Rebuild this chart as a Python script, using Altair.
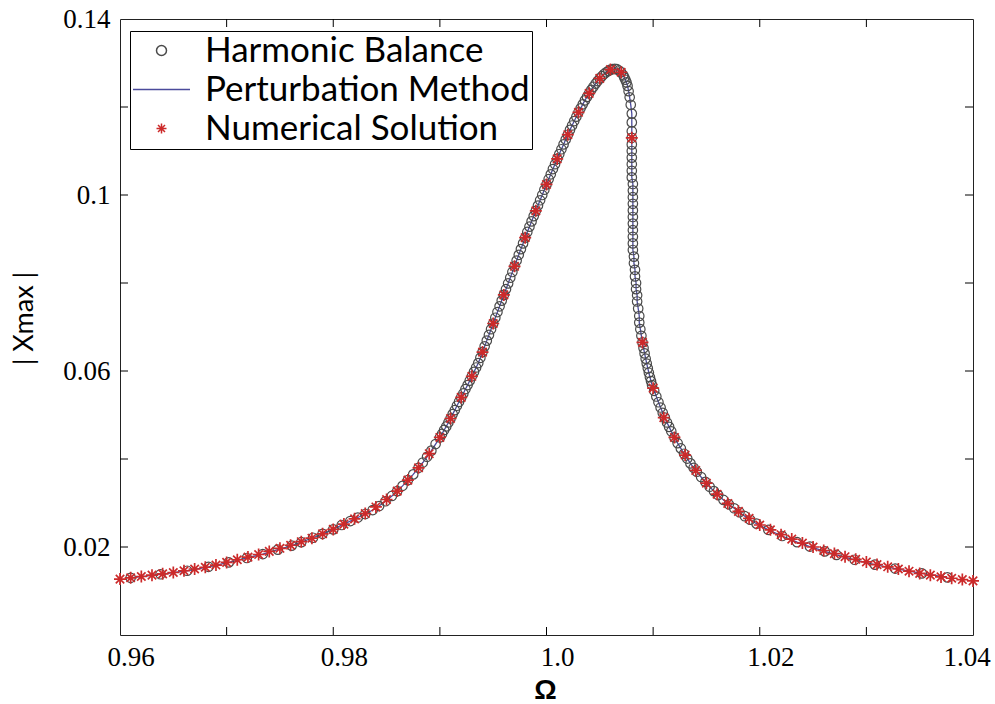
import altair as alt
import pandas as pd

# Harmonic balance (circles) / perturbation (line) curve
hb_omega = [
    0.9610, 0.9638, 0.9663, 0.9683, 0.9702, 0.9719, 0.9734, 0.9748, 0.9761, 0.9770,
    0.9781, 0.9790, 0.9800, 0.9808, 0.9816, 0.9823, 0.9830, 0.9837, 0.9843, 0.9849,
    0.9855, 0.9860, 0.9865, 0.9870, 0.9875, 0.9880, 0.9884, 0.9888, 0.9892, 0.9896,
    0.9900, 0.9902, 0.9904, 0.9906, 0.9908, 0.9910, 0.9912, 0.9914, 0.9916, 0.9918,
    0.9920, 0.9922, 0.9924, 0.9926, 0.9928, 0.9930, 0.9932, 0.9934, 0.9936, 0.9938,
    0.9940, 0.9942, 0.9944, 0.9946, 0.9948, 0.9950, 0.9952, 0.9954, 0.9956, 0.9958,
    0.9960, 0.9962, 0.9964, 0.9966, 0.9968, 0.9970, 0.9972, 0.9974, 0.9976, 0.9978,
    0.9980, 0.9982, 0.9984, 0.9986, 0.9988, 0.9990, 0.9992, 0.9994, 0.9996, 0.9998,
    1.0000, 1.0002, 1.0004, 1.0006, 1.0008, 1.0010, 1.0012, 1.0014, 1.0016, 1.0018,
    1.0020, 1.0022, 1.0024, 1.0026, 1.0028, 1.0030, 1.0032, 1.0034, 1.0036, 1.0038,
    1.0040, 1.0042, 1.0044, 1.0046, 1.0048, 1.0050, 1.0052, 1.0054, 1.0056, 1.0058,
    1.0060, 1.0062, 1.0064, 1.0066, 1.0068, 1.0070, 1.0072, 1.0073, 1.0074, 1.0075,
    1.0076, 1.0077, 1.0078, 1.0079, 1.0080, 1.0080, 1.0080, 1.0080, 1.0080, 1.0080,
    1.0080, 1.0080, 1.0080, 1.0080, 1.0081, 1.0081, 1.0081, 1.0081, 1.0081, 1.0081,
    1.0081, 1.0081, 1.0081, 1.0081, 1.0081, 1.0082, 1.0082, 1.0083, 1.0083, 1.0084,
    1.0084, 1.0085, 1.0085, 1.0086, 1.0087, 1.0087, 1.0088, 1.0089, 1.0090, 1.0091,
    1.0092, 1.0093, 1.0094, 1.0095, 1.0096, 1.0097, 1.0098, 1.0099, 1.0101, 1.0103,
    1.0105, 1.0107, 1.0109, 1.0111, 1.0113, 1.0115, 1.0117, 1.0120, 1.0123, 1.0126,
    1.0129, 1.0132, 1.0135, 1.0138, 1.0141, 1.0145, 1.0149, 1.0153, 1.0157, 1.0161,
    1.0166, 1.0171, 1.0176, 1.0181, 1.0186, 1.0191, 1.0197, 1.0208, 1.0221, 1.0235,
    1.0247, 1.0261, 1.0272, 1.0289, 1.0308, 1.0327, 1.0352, 1.0376,
]
hb_amp = [
    0.0130, 0.0138, 0.0146, 0.0155, 0.0165, 0.0175, 0.0184, 0.0194, 0.0203, 0.0211,
    0.0221, 0.0230, 0.0240, 0.0250, 0.0259, 0.0267, 0.0275, 0.0284, 0.0293, 0.0304,
    0.0316, 0.0327, 0.0339, 0.0352, 0.0365, 0.0380, 0.0392, 0.0405, 0.0419, 0.0434,
    0.0449, 0.0457, 0.0466, 0.0474, 0.0483, 0.0492, 0.0502, 0.0511, 0.0521, 0.0530,
    0.0540, 0.0549, 0.0559, 0.0568, 0.0578, 0.0588, 0.0598, 0.0608, 0.0618, 0.0630,
    0.0643, 0.0656, 0.0669, 0.0682, 0.0695, 0.0708, 0.0721, 0.0734, 0.0747, 0.0760,
    0.0773, 0.0786, 0.0799, 0.0812, 0.0825, 0.0838, 0.0851, 0.0864, 0.0877, 0.0890,
    0.0903, 0.0916, 0.0928, 0.0940, 0.0952, 0.0964, 0.0976, 0.0988, 0.1000, 0.1012,
    0.1024, 0.1036, 0.1047, 0.1059, 0.1070, 0.1082, 0.1093, 0.1104, 0.1115, 0.1126,
    0.1137, 0.1148, 0.1158, 0.1168, 0.1178, 0.1188, 0.1197, 0.1206, 0.1215, 0.1223,
    0.1231, 0.1239, 0.1246, 0.1253, 0.1259, 0.1265, 0.1270, 0.1275, 0.1279, 0.1282,
    0.1285, 0.1286, 0.1287, 0.1286, 0.1283, 0.1279, 0.1272, 0.1267, 0.1262, 0.1256,
    0.1248, 0.1236, 0.1222, 0.1205, 0.1185, 0.1165, 0.1145, 0.1130, 0.1115, 0.1100,
    0.1085, 0.1070, 0.1055, 0.1040, 0.1025, 0.1010, 0.0995, 0.0980, 0.0965, 0.0950,
    0.0935, 0.0920, 0.0905, 0.0890, 0.0875, 0.0860, 0.0845, 0.0830, 0.0815, 0.0800,
    0.0786, 0.0772, 0.0758, 0.0742, 0.0725, 0.0710, 0.0695, 0.0680, 0.0665, 0.0652,
    0.0640, 0.0628, 0.0617, 0.0606, 0.0596, 0.0586, 0.0577, 0.0568, 0.0555, 0.0542,
    0.0529, 0.0517, 0.0505, 0.0494, 0.0483, 0.0473, 0.0463, 0.0449, 0.0436, 0.0424,
    0.0412, 0.0401, 0.0390, 0.0380, 0.0371, 0.0359, 0.0348, 0.0337, 0.0327, 0.0318,
    0.0307, 0.0297, 0.0288, 0.0279, 0.0270, 0.0262, 0.0253, 0.0239, 0.0225, 0.0211,
    0.0201, 0.0190, 0.0182, 0.0171, 0.0160, 0.0151, 0.0140, 0.0131,
]

# Numerical solution (stars)
num_omega = [
    0.960, 0.961, 0.962, 0.963, 0.964, 0.965, 0.966, 0.967, 0.968, 0.969,
    0.970, 0.971, 0.972, 0.973, 0.974, 0.975, 0.976, 0.977, 0.978, 0.979,
    0.980, 0.981, 0.982, 0.983, 0.984, 0.985, 0.986, 0.987, 0.988, 0.989,
    0.990, 0.991, 0.992, 0.993, 0.994, 0.995, 0.996, 0.997, 0.998, 0.999,
    1.000, 1.001, 1.002, 1.003, 1.004, 1.005, 1.006, 1.007, 1.008, 1.009,
    1.010, 1.011, 1.012, 1.013, 1.014, 1.015, 1.016, 1.017, 1.018, 1.019,
    1.020, 1.021, 1.022, 1.023, 1.024, 1.025, 1.026, 1.027, 1.028, 1.029,
    1.030, 1.031, 1.032, 1.033, 1.034, 1.035, 1.036, 1.037, 1.038, 1.039,
    1.040,
]
num_amp = [
    0.0127, 0.0130, 0.0133, 0.0136, 0.0139, 0.0142, 0.0146, 0.0150, 0.0154, 0.0159,
    0.0165, 0.0171, 0.0177, 0.0183, 0.0190, 0.0197, 0.0204, 0.0212, 0.0220, 0.0230,
    0.0240, 0.0252, 0.0264, 0.0276, 0.0291, 0.0308, 0.0327, 0.0352, 0.0380, 0.0412,
    0.0449, 0.0492, 0.0540, 0.0588, 0.0643, 0.0708, 0.0773, 0.0838, 0.0903, 0.0964,
    0.1024, 0.1082, 0.1137, 0.1188, 0.1231, 0.1265, 0.1285, 0.1279, 0.1130, 0.0665,
    0.0561, 0.0494, 0.0449, 0.0409, 0.0374, 0.0345, 0.0320, 0.0299, 0.0281, 0.0265,
    0.0250, 0.0239, 0.0228, 0.0218, 0.0209, 0.0200, 0.0192, 0.0185, 0.0178, 0.0172,
    0.0166, 0.0160, 0.0155, 0.0150, 0.0145, 0.0140, 0.0136, 0.0132, 0.0129, 0.0126,
    0.0123,
]

methods = ["Harmonic Balance", "Perturbation Method", "Numerical Solution"]
method_colors = ["#4a4a4a", "#4b4b9b", "#cc2a2a"]
ASTERISK = "M0,-1L0,1M-1,0L1,0M-0.7,-0.7L0.7,0.7M-0.7,0.7L0.7,-0.7"
LONG_DASH = "M-5.7,0L5.7,0"
method_shapes = ["circle", LONG_DASH, ASTERISK]

x_minor = [0.97, 0.98, 0.99, 1.0, 1.01, 1.02, 1.03]
y_minor = [0.02, 0.04, 0.06, 0.08, 0.10, 0.12]
x_labels = [0.96, 0.98, 1.0, 1.02, 1.04]
x_label_text = ["0.96", "0.98", "1.0", "1.02", "1.04"]
y_labels = [0.02, 0.06, 0.1, 0.14]

W, H = 853, 616

hb_df = pd.DataFrame({"omega": hb_omega, "amp": hb_amp, "idx": list(range(len(hb_omega)))})
line_df = hb_df.assign(method="Perturbation Method")
circ_df = hb_df.assign(method="Harmonic Balance")
num_df = pd.DataFrame({"omega": num_omega, "amp": num_amp, "method": "Numerical Solution"})
xt_df = pd.DataFrame({"omega": x_minor})
yt_df = pd.DataFrame({"amp": y_minor})
xl_df = pd.DataFrame({"omega": x_labels, "label": x_label_text})

xs = alt.Scale(domain=[0.96, 1.04], nice=False, zero=False)
ys = alt.Scale(domain=[0, 0.14], nice=False, zero=False)

leg = alt.Legend(
    title=None, orient="none", legendX=10, legendY=12, padding=2,
    fillColor="white", strokeColor="black", labelFont="Lato", labelFontSize=35,
    labelColor="black", labelLimit=0, rowPadding=3, labelOffset=26,
    symbolSize=100, symbolOffset=12, symbolStrokeWidth=1.5, labelBaseline="middle",
)
color = alt.Color("method:N", scale=alt.Scale(domain=methods, range=method_colors), legend=leg)
shape = alt.Shape("method:N", scale=alt.Scale(domain=methods, range=method_shapes), legend=leg)

x_axis = alt.Axis(
    values=x_labels, labels=False, ticks=False, domain=False, grid=False,
    title="Ω", titleFont="Liberation Sans", titleFontSize=28, titleFontWeight="bold",
    titleColor="black", titleX=425, titleY=55, titleAlign="center", titleBaseline="middle",
)
y_axis = alt.Axis(
    values=y_labels, labelExpr="'' + datum.value",
    ticks=False, domain=False, grid=False,
    labelFont="Liberation Serif", labelFontSize=27, labelColor="black", labelPadding=10,
    title="| Xmax |", titleFont="Lato", titleFontSize=27, titleFontWeight="normal",
    titleColor="black", titleX=-96, titleY=299, titleAlign="center", titleBaseline="middle",
)

X = alt.X("omega:Q", scale=xs, axis=x_axis)
Y = alt.Y("amp:Q", scale=ys, axis=y_axis)

line = alt.Chart(line_df).mark_line(strokeWidth=1.3).encode(
    x=X, y=Y, order="idx:Q", color=color,
)
circles = alt.Chart(circ_df).mark_point(filled=False, strokeWidth=1.2, opacity=1, size=90).encode(
    x=X, y=Y, color=color, shape=shape,
)
stars = alt.Chart(num_df).mark_point(filled=False, strokeWidth=1.7, opacity=1, size=144).encode(
    x=X, y=Y, color=color, shape=shape,
)
tick_b = alt.Chart(xt_df).mark_rule(color="black").encode(
    x=X, y=alt.value(H), y2=alt.value(H - 8))
tick_t = alt.Chart(xt_df).mark_rule(color="black").encode(
    x=X, y=alt.value(0), y2=alt.value(8))
tick_l = alt.Chart(yt_df).mark_rule(color="black").encode(
    y=Y, x=alt.value(0), x2=alt.value(8))
tick_r = alt.Chart(yt_df).mark_rule(color="black").encode(
    y=Y, x=alt.value(W - 8), x2=alt.value(W))

label_style = dict(font="Liberation Serif", fontSize=27, color="black", baseline="top", align="center")
xlab_main = alt.Chart(xl_df).transform_filter("datum.omega < 1.035").mark_text(dx=11, **label_style).encode(
    x=X, y=alt.value(H + 10), text="label:N")
xlab_last = alt.Chart(xl_df).transform_filter("datum.omega > 1.035").mark_text(dx=-6, **label_style).encode(
    x=X, y=alt.value(H + 10), text="label:N")

chart = alt.layer(
    line, circles, stars, tick_b, tick_t, tick_l, tick_r, xlab_main, xlab_last
).properties(
    width=W, height=H,
    padding={"left": 120, "top": 19, "right": 22, "bottom": 69},
    autosize=alt.AutoSizeParams(type="none"),
    background="white",
).configure_view(stroke="#222222", strokeWidth=1)

chart.save("out.html", embed_options={"renderer": "svg", "actions": False})
